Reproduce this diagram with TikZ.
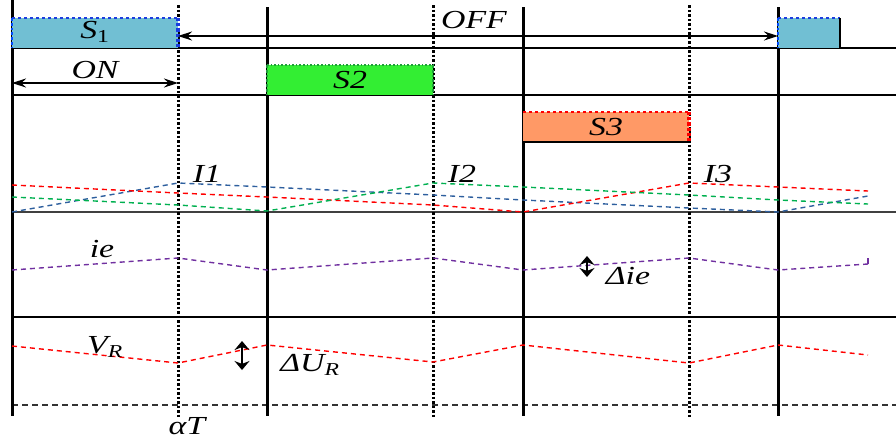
\documentclass[tikz,border=0pt]{standalone}
\usepackage{fontspec}
\setmainfont{Liberation Serif}
\usetikzlibrary{arrows.meta}
\definecolor{sonefill}{HTML}{71BFD3}
\definecolor{stwofill}{HTML}{33EE33}
\definecolor{sthreefill}{HTML}{FF9966}
\definecolor{ione}{HTML}{2E5F9E}
\definecolor{itwo}{HTML}{00B050}
\definecolor{iecol}{HTML}{7030A0}
\definecolor{edgeblue}{HTML}{1A3CE0}
\definecolor{edgegreen}{HTML}{1F9E3A}
\tikzset{
  period/.style={line width=3pt},
  switchmark/.style={line width=3pt, dash pattern=on 2.5pt off 2pt},
  rail/.style={line width=1.4pt},
  wave/.style={line width=1.4pt, dash pattern=on 5pt off 4pt},
  lbl/.style={font=\itshape\fontsize{26}{28}\selectfont, inner sep=1pt, xscale=1.3},
  delta/.style={line width=2.6pt, {Stealth[length=9pt,width=15pt]}-{Stealth[length=9pt,width=15pt]}},
  span/.style={line width=1.2pt, {Stealth[length=14pt,width=9pt]}-{Stealth[length=14pt,width=9pt]}}
}
\begin{document}
\begin{tikzpicture}[x=1pt, y=-1pt, >=stealth]
\useasboundingbox (0,0) rectangle (896,440);

% rails
\draw[rail] (12,48) -- (896,48);
\draw[rail] (12,95) -- (896,95);
\draw[rail, black!75, line width=1.8pt] (12,212) -- (896,212);
\draw[rail] (12,317) -- (896,317);
\draw[rail, black!80, line width=1.6pt, dash pattern=on 6pt off 4pt] (12,405) -- (896,405);

% period lines
\draw[period] (12,0) -- (12,416);
\foreach \x in {267,523,778}
  \draw[period] (\x,7) -- (\x,416);
\foreach \x in {178,433,689}
  \draw[switchmark] (\x,5) -- (\x,418);

% switch boxes
\fill[sonefill] (12,18) rectangle (178,48);
\draw[edgeblue, dashed, line width=1.6pt] (12,18) -- (178,18);
\draw[blue!70!cyan, dotted, line width=2.8pt] (12,18) -- (12,48);
\draw[edgeblue, dotted, line width=3.2pt] (178,18) -- (178,48);
\node[lbl] (s1) at (95,32) {S\textsubscript{\upshape 1}};

\fill[sonefill] (778,18) rectangle (840,48);
\draw[edgeblue, dashed, line width=1.6pt] (778,18) -- (840,18);
\draw[blue!70!cyan, dotted, line width=2.8pt] (778,18) -- (778,48);
\draw[line width=2.2pt] (840,18) -- (840,48);

\fill[stwofill] (267,65) rectangle (433,95);
\draw[edgegreen, dotted, line width=1.6pt] (267,65) -- (433,65);
\draw[edgegreen, dotted, line width=2.8pt] (267,65) -- (267,95) (433,65) -- (433,95);
\node[lbl] (s2) at (350,80) {S2};

\fill[sthreefill] (523,112) rectangle (689,142);
\draw[line width=1.6pt] (523,142) -- (689,142);
\draw[red, dashed, line width=1.6pt] (523,112) -- (689,112);
\draw[red, dotted, line width=3.2pt] (689,112) -- (689,142);
\node[lbl] (s3) at (606,127) {S3};

% on / off
\coordinate (onl) at (12,83);
\coordinate (onr) at (178,83);
\draw[span] (onl) -- (onr);
\node[lbl] (on) at (95,70) {ON};
\coordinate (offl) at (178,36);
\coordinate (offr) at (778,36);
\draw[span] (offl) -- (offr);
\node[lbl] (off) at (474,20) {OFF};

% inductor currents
\draw[wave, ione] (12,212) -- (178,183) -- (267,187) -- (433,195) -- (523,200) -- (689,208) -- (778,212) -- (868,196);
\draw[wave, red] (12,185) -- (178,193) -- (267,197) -- (433,205) -- (523,212) -- (689,183) -- (778,187) -- (868,191);
\draw[wave, itwo] (12,197) -- (178,205) -- (267,211) -- (433,183) -- (523,187) -- (689,195) -- (778,200) -- (868,204);
\node[lbl] (i1) at (207,174) {I1};
\node[lbl] (i2) at (462,174) {I2};
\node[lbl] (i3) at (718,174) {I3};

% ie
\draw[wave, iecol] (12,270) -- (178,258) -- (267,270) -- (433,258) -- (523,270) -- (689,258) -- (778,270) -- (868,264);
\draw[iecol, line width=1.6pt] (868,258) -- (868,264);
\node[lbl] (ie) at (102,249) {ie};
\coordinate (diet) at (587,256);
\coordinate (dieb) at (587,277);
\draw[delta] (diet) -- (dieb);
\node[lbl] (die) at (628,276) {Δie};

% VR
\draw[wave, red] (12,346) -- (178,363) -- (267,345) -- (433,362) -- (523,345) -- (689,363) -- (778,345) -- (868,355);
\node[lbl] (vr) at (105,347) {V\textsubscript{R}};
\coordinate (durt) at (242,341);
\coordinate (durb) at (242,370);
\draw[delta] (durt) -- (durb);
\node[lbl] (dur) at (310,365) {ΔU\textsubscript{R}};

\node[lbl] (at) at (187,426) {αT};
\end{tikzpicture}
\end{document}
